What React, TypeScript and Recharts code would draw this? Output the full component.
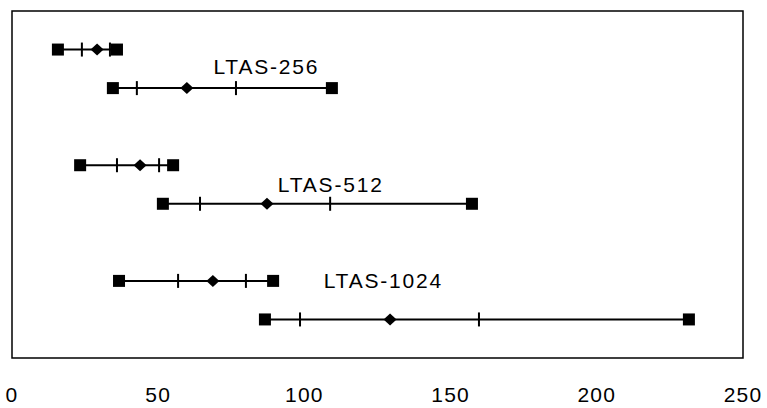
import { ScatterChart, Scatter, XAxis, YAxis, ReferenceArea } from 'recharts'

// one row per range bar, top to bottom
const rowY = [1, 2, 4, 5, 7, 8]
const minVals = [15.7, 34.5, 23.3, 51.6, 36.6, 86.5]
const q1Vals = [23.9, 42.7, 35.9, 64.3, 56.8, 98.5]
const medVals = [29.1, 59.8, 43.8, 87.2, 68.7, 129.3]
const q3Vals = [33.5, 76.6, 50.3, 108.8, 80, 159.7]
const maxVals = [35.9, 109.4, 55.1, 157.3, 89.3, 231.5]

const groupLabels = ['LTAS-256', 'LTAS-512', 'LTAS-1024']
const labelX = [87, 109, 127]
const labelY = [1.45, 4.5, 7.0]

const xTicks = [0, 50, 100, 150, 200, 250]

const FONT = "Arial, 'Liberation Sans', sans-serif"

type Kind = 'box' | 'tick' | 'diamond'
interface Pt {
  x: number
  y: number
  kind: Kind
}

const rows: Pt[][] = rowY.map((y, i) => [
  { x: minVals[i], y, kind: 'box' },
  { x: q1Vals[i], y, kind: 'tick' },
  { x: medVals[i], y, kind: 'diamond' },
  { x: q3Vals[i], y, kind: 'tick' },
  { x: maxVals[i], y, kind: 'box' }
])

const labelData = groupLabels.map((name, i) => ({ x: labelX[i], y: labelY[i], name }))

const Marker = (props: any) => {
  const { cx, cy, payload } = props
  if (cx == null || cy == null) return null
  if (payload.kind === 'box') {
    return <rect x={cx - 6} y={cy - 6} width={12} height={12} fill="#000" />
  }
  if (payload.kind === 'diamond') {
    return (
      <path
        d={`M${cx - 6.5},${cy} L${cx},${cy - 6} L${cx + 6.5},${cy} L${cx},${cy + 6} Z`}
        fill="#000"
      />
    )
  }
  return <rect x={cx - 1} y={cy - 7} width={2} height={14} fill="#000" />
}

const GroupLabel = (props: any) => {
  const { cx, cy, payload } = props
  if (cx == null || cy == null) return null
  return (
    <text
      x={cx}
      y={cy}
      textAnchor="middle"
      dominantBaseline="central"
      fontFamily={FONT}
      fontSize={21}
      letterSpacing={1.8}
      fill="#000"
    >
      {payload.name}
    </text>
  )
}

export default function App() {
  return (
    <div style={{ width: 767, height: 408, background: '#fff' }}>
      <style>{'body{margin:0}'}</style>
      <ScatterChart
        width={767}
        height={408}
        margin={{ top: 11, right: 24, bottom: 0, left: 12 }}
      >
        <XAxis
          type="number"
          dataKey="x"
          domain={[0, 250]}
          ticks={xTicks}
          axisLine={false}
          tickLine={false}
          tickMargin={23}
          height={50}
          tick={{ fill: '#000', fontSize: 21, fontFamily: FONT, letterSpacing: 1.2 }}
        />
        <YAxis type="number" dataKey="y" domain={[0, 9]} reversed hide />
        <ReferenceArea
          x1={0}
          x2={250}
          y1={0}
          y2={9}
          fill="none"
          stroke="#000"
          strokeWidth={1.5}
        />
        {rows.map((row, i) => (
          <Scatter
            key={i}
            data={row}
            line={{ stroke: '#000', strokeWidth: 2 }}
            shape={Marker}
            isAnimationActive={false}
          />
        ))}
        <Scatter data={labelData} shape={GroupLabel} isAnimationActive={false} />
      </ScatterChart>
    </div>
  )
}
